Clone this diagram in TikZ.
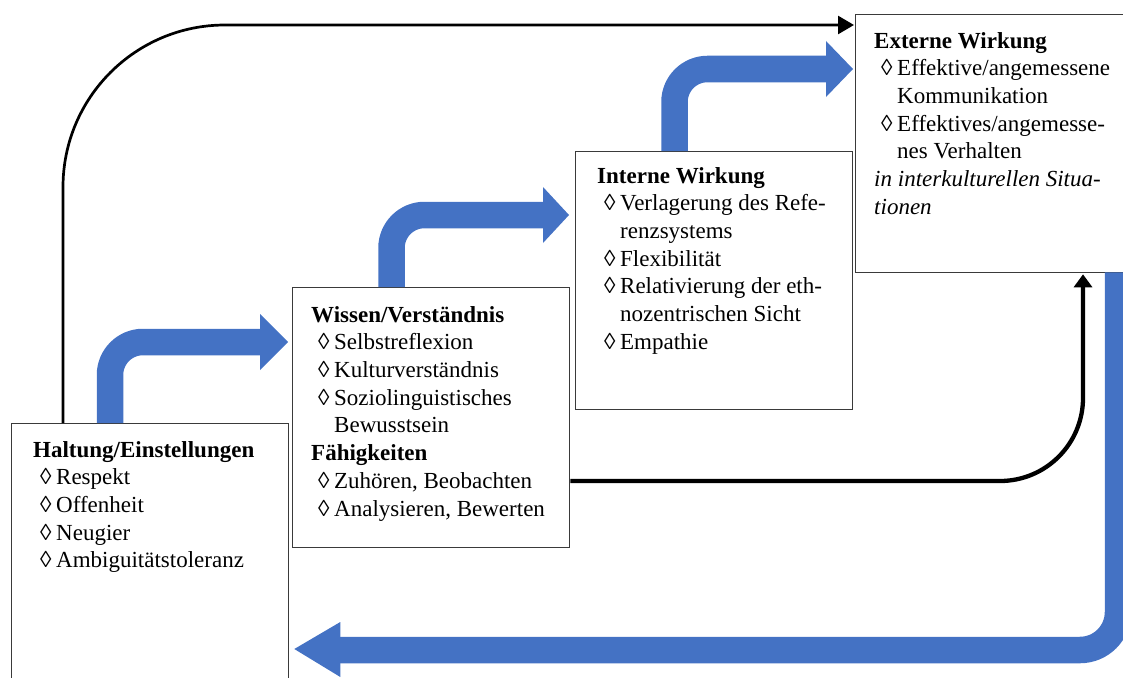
\documentclass[tikz,border=0pt]{standalone}
\usepackage{fontspec}
\setmainfont{Liberation Serif}
\usetikzlibrary{arrows.meta,calc}
\definecolor{arrowblue}{HTML}{4472C4}
\definecolor{boxline}{HTML}{3A3A3A}
\newcommand\dmd{\hspace*{7pt}\makebox[16pt][l]{◊}}
\newcommand\cnt{\hspace*{23pt}}
\begin{document}
\begin{tikzpicture}[x=1pt,y=-1pt,
  box/.style={draw=boxline, line width=1.3pt, fill=white, rectangle, inner sep=0pt, anchor=north west},
  txt/.style={anchor=north west, inner sep=0pt, align=left, font=\fontsize{23}{27.7}\selectfont},
  band/.style={draw=arrowblue, line width=26.5pt},
  head/.style={fill=arrowblue},
  link/.style={draw=black},
]
\useasboundingbox (0,0) rectangle (1123,677);
\clip (0,0) rectangle (1123,677);

% boxes
\node[box, minimum width=277pt, minimum height=300pt] (A) at (11,423) {};
\node[box, minimum width=277pt, minimum height=260pt] (B) at (292,287) {};
\node[box, minimum width=277pt, minimum height=258pt] (C) at (575,151) {};
\node[box, minimum width=290pt, minimum height=258pt] (D) at (855,14) {};

% blue arrows
\draw[band, rounded corners=33pt] ($(A.north west)+(99,0)$) |- ($(B.north west)+(-31,55)$);
\fill[head] ($(B.north west)+(-32,27)$) -- ($(B.north west)+(-4,55)$) -- ($(B.north west)+(-32,83)$) -- cycle;

\draw[band, rounded corners=33pt] ($(B.north west)+(99.5,0)$) |- ($(C.north west)+(-31,64)$);
\fill[head] ($(C.north west)+(-32,36)$) -- ($(C.north west)+(-6,64)$) -- ($(C.north west)+(-32,92)$) -- cycle;

\draw[band, rounded corners=33pt] ($(C.north west)+(99.5,0)$) |- ($(D.north west)+(-28,55)$);
\fill[head] ($(D.north west)+(-29,27)$) -- ($(D.north west)+(-2,55)$) -- ($(D.north west)+(-29,83)$) -- cycle;

\draw[band, rounded corners=38pt] ($(D.south west)+(263,-1)$) |- ($(A.north east)+(50,227)$);
\fill[head] ($(A.north east)+(51,199)$) -- ($(A.north east)+(5,226)$) -- ($(A.north east)+(51,254)$) -- cycle;

% black connectors
\draw[link, line width=2.7pt, rounded corners=162pt, -{Triangle[length=16pt,width=18pt]}]
  ($(A.north west)+(52,0)$) |- ($(D.north west)+(-1,11)$);
\draw[link, line width=4.3pt, rounded corners=83pt, -{Triangle[length=13pt,width=18pt]}]
  ($(B.north east)+(0,194)$) -| ($(D.south west)+(228,1)$);

% texts
\node[txt] (tA) at (33,437.6) {\strut\textbf{Haltung/Einstellungen}\\
\dmd Respekt\\
\dmd Offenheit\\
\dmd Neugier\\
\dmd Ambiguitätstoleranz};

\node[txt] (tB) at (311,302.6) {\strut\textbf{Wissen/Verständnis}\\
\dmd Selbstreflexion\\
\dmd Kulturverständnis\\
\dmd Soziolinguistisches\\
\cnt Bewusstsein\\
\textbf{Fähigkeiten}\\
\dmd Zuhören, Beobachten\\
\dmd Analysieren, Bewerten};

\node[txt] (tC) at (597,163.6) {\strut\textbf{Interne Wirkung}\\
\dmd Verlagerung des Refe-\\
\cnt renzsystems\\
\dmd Flexibilität\\
\dmd Relativierung der eth-\\
\cnt nozentrischen Sicht\\
\dmd Empathie};

\node[txt] (tD) at (874,28.6) {\strut\textbf{Externe Wirkung}\\
\dmd Effektive/angemessene\\
\cnt Kommunikation\\
\dmd Effektives/angemesse-\\
\cnt nes Verhalten\\
\textit{in interkulturellen Situa-}\\
\textit{tionen}};
\end{tikzpicture}
\end{document}
